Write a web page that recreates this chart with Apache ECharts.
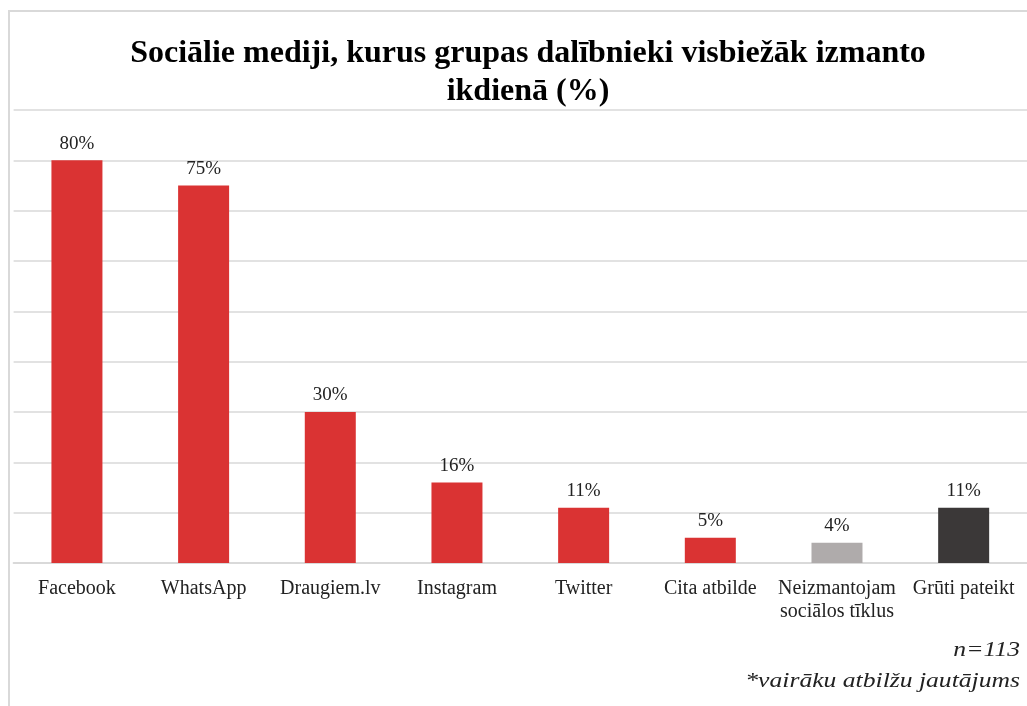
<!DOCTYPE html>
<html>
<head>
<meta charset="utf-8">
<script src="https://cdn.jsdelivr.net/npm/echarts@6/dist/echarts.min.js"></script>
<style>
  html, body { margin: 0; padding: 0; background: #fff; }
  #main { width: 1027px; height: 706px; }
</style>
</head>
<body>
<div id="main"></div>
<script>
// dati
var categories = ['Facebook', 'WhatsApp', 'Draugiem.lv', 'Instagram', 'Twitter', 'Cita atbilde', 'Neizmantojam\nsociālos tīklus', 'Grūti pateikt'];
var values = [80, 75, 30, 16, 11, 5, 4, 11];
var barColors = ['#DA3333', '#DA3333', '#DA3333', '#DA3333', '#DA3333', '#DA3333', '#AFABAB', '#3B3838'];

var chart = echarts.init(document.getElementById('main'));

var serif = '"Liberation Serif", "DejaVu Serif", serif';

chart.setOption({
  backgroundColor: '#fff',
  animation: false,
  title: {
    text: 'Sociālie mediji, kurus grupas dalībnieki visbiežāk izmanto\nikdienā (%)',
    left: 523,
    top: 30,
    textAlign: 'center',
    textStyle: {
      fontFamily: serif,
      fontWeight: 'bold',
      fontSize: 32,
      lineHeight: 38,
      color: '#000'
    }
  },
  graphic: [
    { type: 'line', shape: { x1: 8, y1: 11, x2: 1027, y2: 11 }, style: { stroke: '#d9d9d9', lineWidth: 2 } },
    { type: 'line', shape: { x1: 9, y1: 11, x2: 9, y2: 706 }, style: { stroke: '#d9d9d9', lineWidth: 2 } },
    // piezīmes apakšā (nedaudz izstieptas kā oriģinālā)
    {
      type: 'text', x: 1020, y: 650, scaleX: 1.22,
      style: { text: 'n=113', font: 'italic 21px ' + serif, fill: '#222', textAlign: 'right', textVerticalAlign: 'middle' }
    },
    {
      type: 'text', x: 1020, y: 681, scaleX: 1.22,
      style: { text: '*vairāku atbilžu jautājums', font: 'italic 21px ' + serif, fill: '#222', textAlign: 'right', textVerticalAlign: 'middle' }
    }
  ],
  grid: { left: 13.6, right: -8, top: 110, bottom: 143, containLabel: false },
  xAxis: {
    type: 'category',
    data: categories,
    axisTick: { show: false },
    axisLine: { lineStyle: { color: '#d9d9d9', width: 2 } },
    axisLabel: {
      interval: 0,
      margin: 14,
      fontFamily: serif,
      fontSize: 20,
      lineHeight: 23,
      color: '#222'
    }
  },
  yAxis: {
    type: 'value',
    min: 0,
    max: 90,
    interval: 10,
    axisLabel: { show: false },
    axisLine: { show: false },
    axisTick: { show: false },
    splitLine: { lineStyle: { color: '#d9d9d9', width: 1.5 } }
  },
  series: [{
    type: 'bar',
    barWidth: 51,
    data: values.map(function (v, i) {
      return { value: v, itemStyle: { color: barColors[i] } };
    }),
    label: {
      show: true,
      position: 'top',
      distance: 7,
      formatter: '{c}%',
      fontFamily: serif,
      fontSize: 19,
      color: '#222'
    }
  }]
});
</script>
</body>
</html>
